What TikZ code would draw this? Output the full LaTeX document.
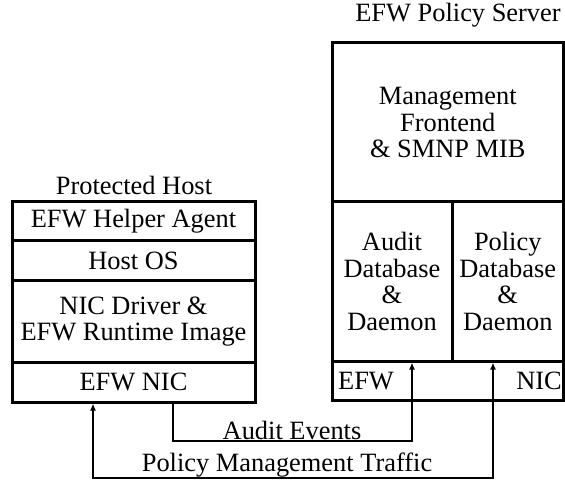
\documentclass[tikz,border=0pt]{standalone}
\usepackage{fontspec}
\setmainfont{Liberation Serif}
\usetikzlibrary{arrows.meta}
\tikzset{
  layer/.style={draw,line width=1.5pt,inner sep=0pt,align=center,font=\fontsize{13.2}{13.4}\selectfont},
  lbl/.style={inner sep=0pt,font=\fontsize{13.2}{13.4}\selectfont},
  flow/.style={line width=1.3pt,-{Latex[length=3.5pt,width=3pt]}}
}
\begin{document}
\begin{tikzpicture}[x=0.5pt,y=0.5pt]
\useasboundingbox (0,0) rectangle (565,481);
% protected host stack
\node[layer,minimum width=121.5pt,minimum height=19.5pt] (agent) at (133.5,259.5) {EFW Helper Agent};
\node[layer,minimum width=121.5pt,minimum height=20pt] (hostos) at (133.5,220) {Host OS};
\node[layer,minimum width=121.5pt,minimum height=40.5pt] (driver) at (133.5,159.5) {NIC Driver \&\\EFW Runtime Image};
\node[layer,minimum width=121.5pt,minimum height=20pt] (nic) at (133.5,99) {EFW NIC};
\node[lbl] (hosttitle) at (134,296) {Protected Host};
% policy server
\node[layer,minimum width=115.75pt,minimum height=79.5pt] (mgmt) at (447.75,358.5) {Management\\Frontend\\\& SMNP MIB};
\node[layer,minimum width=60pt,minimum height=79.5pt] (auditdb) at (392,199.5) {Audit\\Database\\\&\\Daemon};
\node[layer,minimum width=55.75pt,minimum height=79.5pt] (policydb) at (507.75,199.5) {Policy\\Database\\\&\\Daemon};
\node[layer,minimum width=115.75pt,minimum height=19.5pt] (srvnic) at (447.75,100.5) {};
\node[lbl] (srvefw) at (366,100) {EFW};\node[lbl] (srvnicl) at (539,100) {NIC};
\node[lbl] (srvtitle) at (458,466) {EFW Policy Server};
% traffic between host and server
\coordinate (auditbend) at (173,40);\coordinate (policybend) at (93,3);
\draw[flow] ([xshift=19.75pt]nic.south) -- (auditbend) -| ([xshift=10pt]auditdb.south);
\draw[flow,{Latex[length=3.5pt,width=3pt]}-{Latex[length=3.5pt,width=3pt]}] ([xshift=-20.25pt]nic.south) -- (policybend) -| ([xshift=-7.375pt]policydb.south);
\node[lbl] (auditlbl) at (292,51) {Audit Events};
\node[lbl] (policylbl) at (287,16) {Policy Management Traffic};
\end{tikzpicture}
\end{document}
